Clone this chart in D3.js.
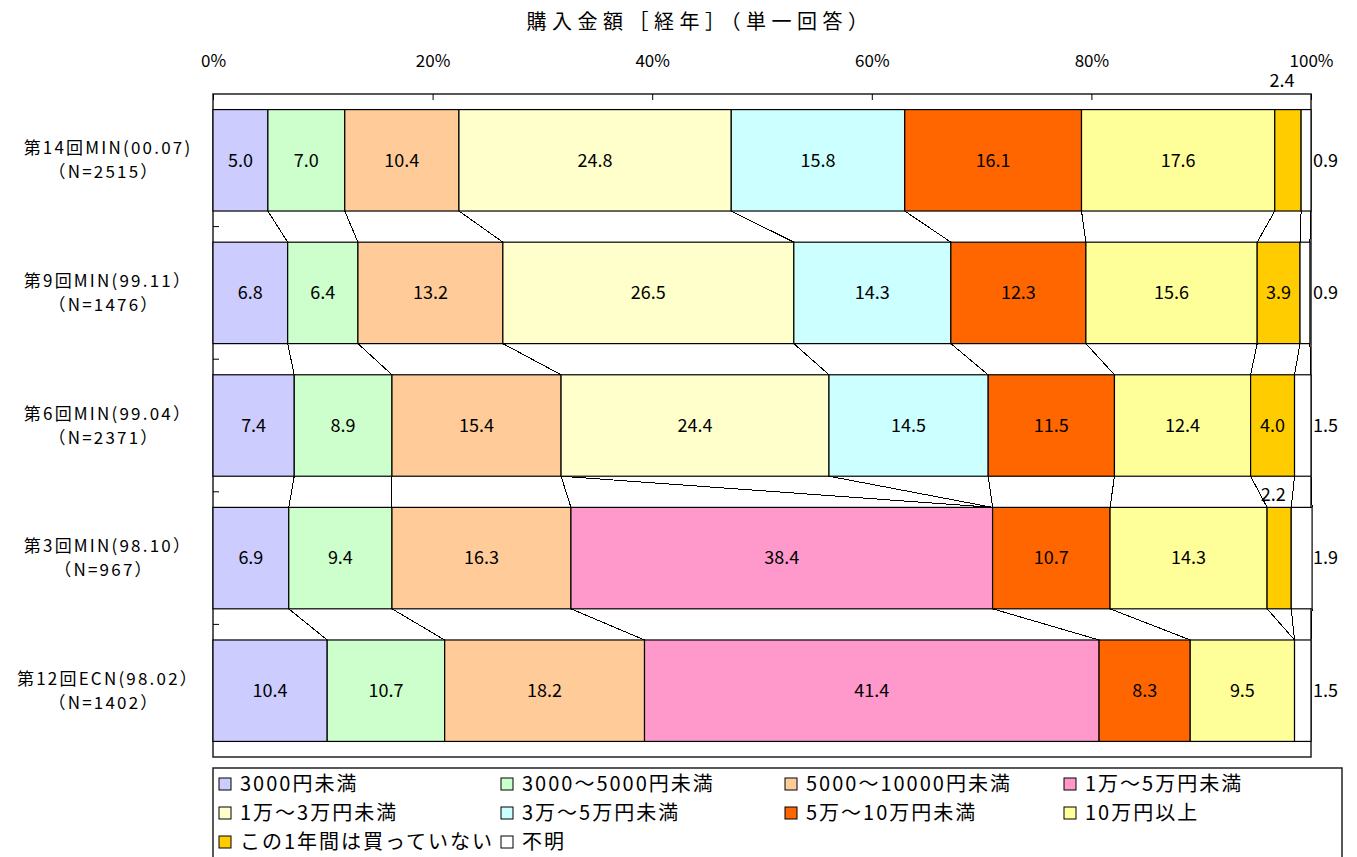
<!DOCTYPE html>
<html>
<head>
<meta charset="utf-8">
<script src="https://cdn.jsdelivr.net/npm/d3@7"></script>
<style>
  body { margin: 0; background: #fff; }
  svg text { font-family: "Noto Sans CJK JP", "DejaVu Sans", sans-serif; fill: #000; }
</style>
</head>
<body>
<div id="chart"></div>
<script>
var title = '購入金額［経年］（単一回答）';
var categories = ['第14回MIN(00.07)', '第9回MIN(99.11）', '第6回MIN(99.04）', '第3回MIN(98.10）', '第12回ECN(98.02）'];
var sampleSizes = ['（N=2515）', '（N=1476）', '（N=2371）', '（N=967）', '（N=1402）'];
var seriesNames = ['3000円未満', '3000～5000円未満', '5000～10000円未満', '1万～5万円未満',
    '1万～3万円未満', '3万～5万円未満', '5万～10万円未満', '10万円以上', 'この1年間は買っていない', '不明'];
var seriesColors = ['#ccccff', '#ccffcc', '#ffcc99', '#ff99cc', '#ffffcc', '#ccffff', '#ff6600', '#ffff99', '#ffcc00', '#ffffff'];
// values per series, in category order (0 = not asked that wave)
var under3000 = [5.0, 6.8, 7.4, 6.9, 10.4];
var from3000 = [7.0, 6.4, 8.9, 9.4, 10.7];
var from5000 = [10.4, 13.2, 15.4, 16.3, 18.2];
var man1to5 = [0, 0, 0, 38.4, 41.4];
var man1to3 = [24.8, 26.5, 24.4, 0, 0];
var man3to5 = [15.8, 14.3, 14.5, 0, 0];
var man5to10 = [16.1, 12.3, 11.5, 10.7, 8.3];
var man10plus = [17.6, 15.6, 12.4, 14.3, 9.5];
var notBought = [2.4, 3.9, 4.0, 2.2, 0];
var unknown = [0.9, 0.9, 1.5, 1.9, 1.5];
var tickValues = [0, 20, 40, 60, 80, 100];

var seriesValues = [under3000, from3000, from5000, man1to5, man1to3, man3to5, man5to10, man10plus, notBought, unknown];

(function() {
var W = 1357, H = 857;
var pl = 213, pr = 1311, pt = 94, pb = 757;

var svg = d3.select('#chart').append('svg')
    .attr('width', W)
    .attr('height', H);

var rows = categories.map(function(c, i) {
    var r = {cat: c};
    seriesNames.forEach(function(s, j) { r[s] = seriesValues[j][i]; });
    return r;
});
var stacked = d3.stack().keys(seriesNames)(rows);

var x = d3.scaleLinear().domain([0, 100]).range([pl, pr]);
var y = d3.scaleBand().domain(categories).range([pt, pb])
    .paddingInner(0.235).paddingOuter(0.1175);
var step = y.step();

// title
svg.append('text')
    .attr('x', 700).attr('y', 29)
    .attr('text-anchor', 'middle')
    .style('font-size', '20px')
    .style('letter-spacing', '5.5px')
    .text(title);

// plot area
svg.append('rect')
    .attr('x', pl).attr('y', pt)
    .attr('width', pr - pl).attr('height', pb - pt)
    .attr('fill', '#fff').attr('stroke', '#222').attr('stroke-width', 1.5);

// top axis, ticks pointing into the plot
var axis = svg.append('g')
    .attr('transform', 'translate(0,' + pt + ')')
    .call(d3.axisTop(x).tickValues(tickValues).tickSize(-6).tickPadding(27)
        .tickFormat(function(d) { return d + '%'; }));
axis.select('.domain').remove();
axis.selectAll('line').attr('stroke', '#000');
axis.selectAll('text')
    .style('font-family', '"Noto Sans CJK JP", sans-serif')
    .style('font-size', '17px')
    .attr('fill', '#000');

// category ticks on the left edge
svg.selectAll('.ctick')
    .data(d3.range(1, categories.length))
    .enter().append('line')
    .attr('x1', pl).attr('x2', pl + 6)
    .attr('y1', function(i) { return pt + i * step; })
    .attr('y2', function(i) { return pt + i * step; })
    .attr('stroke', '#000');

// series lines between neighbouring bars
var links = [];
stacked.forEach(function(layer) {
    for (var i = 0; i < categories.length - 1; i++) {
        links.push({
            x1: x(layer[i][1]), y1: y(categories[i]) + y.bandwidth(),
            x2: x(layer[i + 1][1]), y2: y(categories[i + 1])
        });
    }
});
svg.selectAll('.link')
    .data(links)
    .enter().append('line')
    .attr('x1', function(d) { return d.x1; })
    .attr('y1', function(d) { return d.y1; })
    .attr('x2', function(d) { return d.x2; })
    .attr('y2', function(d) { return d.y2; })
    .attr('stroke', '#000')
    .attr('stroke-width', 1)
    .attr('shape-rendering', 'crispEdges');

// bars
var layers = svg.selectAll('.layer')
    .data(stacked)
    .enter().append('g')
    .attr('fill', function(d, j) { return seriesColors[j]; });

layers.selectAll('rect')
    .data(function(d) { return d.filter(function(p) { return p[1] - p[0] > 0; }); })
    .enter().append('rect')
    .attr('x', function(d) { return x(d[0]); })
    .attr('y', function(d) { return y(d.data.cat); })
    .attr('width', function(d) { return x(d[1]) - x(d[0]); })
    .attr('height', y.bandwidth())
    .attr('stroke', '#000')
    .attr('stroke-width', 1.2);

// value labels
var labels = [];
stacked.forEach(function(layer, j) {
    layer.forEach(function(p, i) {
        var v = p[1] - p[0];
        if (v <= 0) return;
        var cy = y(categories[i]) + y.bandwidth() / 2;
        var lbl = {text: seriesValues[j][i].toFixed(1), x: x((p[0] + p[1]) / 2), y: cy, anchor: 'middle'};
        if (seriesNames[j] === '不明') {
            lbl.x = pr + 2; lbl.anchor = 'start';
        } else if (v < 3) {
            // too thin: put it above the bar
            lbl.x -= 6;
            lbl.y = (i === 0 ? pt : y(categories[i])) - 13;
        }
        labels.push(lbl);
    });
});
svg.selectAll('.vlabel')
    .data(labels)
    .enter().append('text')
    .attr('x', function(d) { return d.x; })
    .attr('y', function(d) { return d.y; })
    .attr('dy', '0.35em')
    .attr('text-anchor', function(d) { return d.anchor; })
    .style('font-size', '18px')
    .text(function(d) { return d.text; });

// category labels
var cl = svg.selectAll('.clabel')
    .data(categories)
    .enter().append('text')
    .attr('text-anchor', 'middle')
    .style('font-size', '17px')
    .style('letter-spacing', '2.2px');
cl.append('tspan')
    .attr('x', 108)
    .attr('y', function(d) { return y(d) + y.bandwidth() / 2 - 6; })
    .text(function(d) { return d; });
cl.append('tspan')
    .attr('x', 104)
    .attr('y', function(d) { return y(d) + y.bandwidth() / 2 + 18; })
    .text(function(d, i) { return sampleSizes[i]; });

// legend
var legend = svg.append('g');
legend.append('rect')
    .attr('x', 213).attr('y', 768)
    .attr('width', 1129).attr('height', 110)
    .attr('fill', '#fff').attr('stroke', '#222').attr('stroke-width', 1.5);
var colX = [219, 501, 785, 1064];
var items = legend.selectAll('.item')
    .data(seriesNames)
    .enter().append('g')
    .attr('transform', function(d, i) {
        return 'translate(' + colX[i % 4] + ',' + (784 + Math.floor(i / 4) * 29) + ')';
    });
items.append('rect')
    .attr('x', 0).attr('y', -6)
    .attr('width', 12).attr('height', 12)
    .attr('fill', function(d, i) { return seriesColors[i]; })
    .attr('stroke', '#000');
items.append('text')
    .attr('x', 21).attr('dy', '0.35em')
    .style('font-size', '20px')
    .style('letter-spacing', '2px')
    .text(function(d) { return d; });
})();
</script>
</body>
</html>
